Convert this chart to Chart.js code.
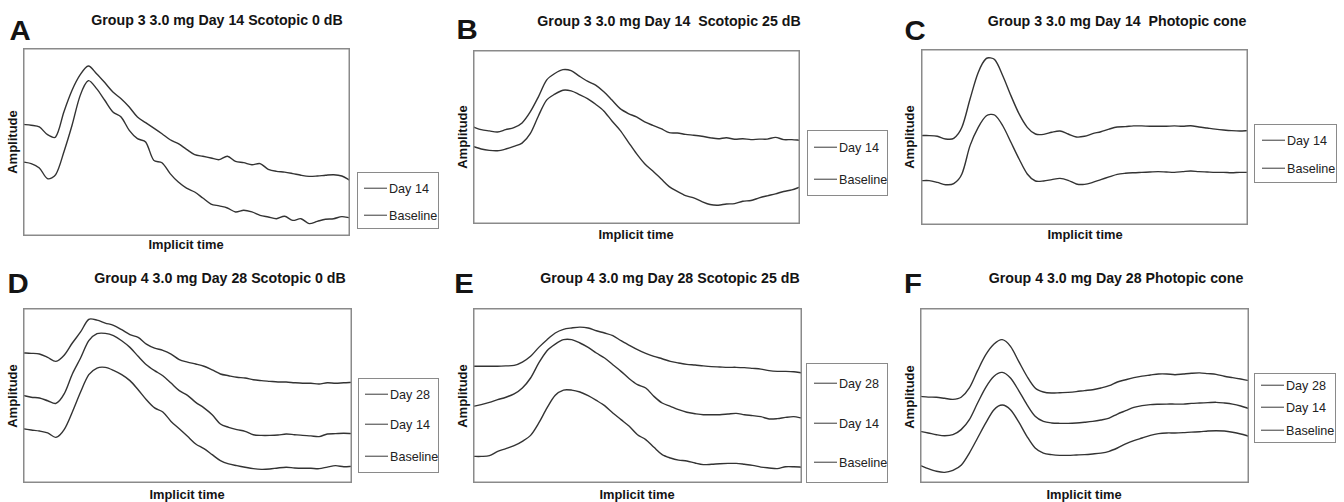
<!DOCTYPE html>
<html>
<head>
<meta charset="utf-8">
<script src="https://cdn.jsdelivr.net/npm/chart.js@4/dist/chart.umd.min.js"></script>
<style>
  html, body { margin:0; padding:0; background:#fff; }
  body { width:1344px; height:502px; position:relative; overflow:hidden; font-family:"Liberation Sans", Arial, sans-serif; color:#141414; }
  .abs { position:absolute; white-space:nowrap; line-height:1; }
  .ctr { transform:translate(-50%,-50%); }
  .letter { font-size:28px; font-weight:700; transform:translate(-50%,-50%) scaleX(1.05); }
  .title { font-size:14.2px; font-weight:700; }
  .ylab { font-size:13px; font-weight:700; transform:translate(-50%,-50%) rotate(-90deg); }
  .xlab { font-size:12.9px; font-weight:700; }
  .legend { position:absolute; border:1.5px solid #8a8a8a; box-sizing:border-box; overflow:hidden; background:#fff; }
  .litem { position:absolute; font-size:12.6px; line-height:1; white-space:nowrap; transform:translateY(-50%); color:#222; }
  .litem span.ln { display:inline-block; width:23px; height:0; border-top:1.3px solid #3a3a3a; vertical-align:middle; margin-right:2px; position:relative; top:-1px; }
  canvas { position:absolute; }
</style>
</head>
<body>
<script>
// ---------- Data (amplitude in arbitrary units, 0 = bottom of plot box, 100 = top) ----------
const sampleIndex = Array.from({length: 41}, (_, i) => i); // implicit-time sample index

const panelLetters = ["A", "B", "C", "D", "E", "F"];
const panelTitles = [
  "Group 3 3.0 mg Day 14 Scotopic 0 dB",
  "Group 3 3.0 mg Day 14\u00a0 Scotopic 25 dB",
  "Group 3 3.0 mg Day 14\u00a0 Photopic cone",
  "Group 4 3.0 mg Day 28 Scotopic 0 dB",
  "Group 4 3.0 mg Day 28 Scotopic 25 dB",
  "Group 4 3.0 mg Day 28 Photopic cone"
];
const yAxisLabel = "Amplitude";
const xAxisLabel = "Implicit time";
const seriesNamesTwo = ["Day 14", "Baseline"];
const seriesNamesThree = ["Day 28", "Day 14", "Baseline"];

// Panel A
const aDay14 = [59.4,58.9,58.0,53.9,52.7,66.0,77.5,85.8,90.4,86.3,81.6,76.6,73.0,68.6,63.3,60.3,57.4,54.4,51.2,49.1,46.1,43.3,42.4,41.5,40.6,42.4,39.7,39.0,37.9,38.5,35.5,34.4,34.0,33.2,32.3,31.7,31.9,32.3,32.6,31.9,29.6];
const aBaseline = [39.4,38.5,36.2,30.5,32.6,44.7,58.9,74.8,82.6,78.4,72.2,66.0,63.3,56.2,51.8,50.0,40.2,39.0,33.2,28.7,25.5,23.4,20.2,17.0,16.0,14.9,12.8,13.7,12.8,11.0,10.1,9.2,10.5,8.3,9.2,6.6,7.8,8.9,9.2,10.3,9.6];
// Panel B
const bDay14 = [55.8,54.2,53.5,52.9,54.2,55.4,58.1,64.4,73.1,82.7,86.5,88.7,88.1,85.0,82.1,79.8,76.0,71.2,66.3,63.5,61.5,58.7,56.7,54.8,52.5,52.3,51.5,51.0,50.4,49.6,49.0,49.6,48.7,49.0,48.5,48.8,48.8,49.8,48.5,48.5,48.1];
const bBaseline = [44.6,43.1,42.3,42.1,43.1,44.6,46.5,51.9,62.1,71.2,74.6,76.9,76.5,74.4,72.1,68.8,65.0,59.2,53.8,47.1,40.4,34.6,30.4,26.0,21.5,18.7,16.3,15.0,12.9,11.2,10.8,11.5,11.7,13.1,13.5,15.0,16.2,17.3,18.7,19.6,21.2];
// Panel C
const cDay14 = [50.8,50.8,50.4,48.9,49.2,55.5,71.6,86.7,94.7,94.0,84.8,73.5,63.1,55.5,51.7,51.5,52.7,53.4,51.7,50.0,50.4,51.9,53.0,54.5,55.7,55.9,56.3,56.3,56.1,56.1,56.1,56.3,56.1,56.4,55.7,55.1,54.5,54.0,53.6,53.4,53.6];
const cBaseline = [25.2,25.2,24.2,22.9,23.5,29.0,45.1,55.5,62.1,62.5,56.4,47.0,37.5,29.0,25.0,25.0,25.8,26.5,25.4,23.3,23.1,24.2,25.8,27.3,28.8,29.4,29.7,29.9,30.1,30.3,30.1,29.9,30.3,30.7,30.3,30.1,29.9,29.9,29.7,29.9,29.9];
// Panel D
const dDay28 = [74.3,74.1,73.7,71.8,69.5,73.0,80.0,86.3,93.5,93.1,91.4,90.1,87.6,84.8,83.2,79.4,77.1,75.8,73.7,70.5,69.1,68.0,66.7,64.6,62.3,61.3,60.4,60.0,59.0,58.5,58.1,57.7,57.7,57.3,57.0,57.0,56.6,57.3,57.0,57.3,57.5];
const dDay14 = [50.1,49.0,48.6,47.0,45.5,50.9,62.3,71.4,81.3,85.3,85.5,84.2,81.3,77.5,72.4,67.6,64.2,61.3,57.1,52.8,50.1,46.1,42.9,39.0,33.7,31.8,30.5,29.5,27.6,27.2,27.2,27.4,28.0,27.6,27.2,26.9,26.5,28.0,28.2,28.4,28.2];
const dBaseline = [31.0,30.3,29.7,28.6,26.1,30.5,40.6,52.0,61.9,65.7,66.1,64.4,61.9,58.5,53.3,47.6,42.9,40.6,35.2,31.0,26.7,22.3,19.6,16.2,12.8,10.9,9.9,9.0,8.2,7.8,8.0,8.6,9.0,8.6,8.4,8.4,8.2,9.1,9.9,9.3,9.5];
// Panel E
const eDay28 = [66.7,66.7,66.7,66.7,66.9,67.2,69.1,72.4,77.5,81.9,85.7,87.8,88.6,89.1,88.6,87.0,85.7,84.2,81.3,78.7,76.2,74.1,72.4,71.0,69.5,68.6,67.8,67.4,66.9,66.5,66.3,66.1,66.1,65.9,65.5,65.1,64.2,63.8,63.8,63.6,62.9];
const eDay14 = [43.8,44.8,46.1,47.6,49.0,50.9,54.3,60.0,68.6,75.6,79.4,81.9,81.9,80.0,77.5,74.3,71.4,67.6,63.8,59.6,56.2,54.3,49.5,45.7,43.8,41.9,40.4,39.6,39.0,39.0,39.0,39.4,39.8,39.0,38.5,37.9,36.6,36.8,37.5,37.9,37.1];
const eBaseline = [15.2,15.2,15.6,18.1,19.6,21.3,23.8,27.2,34.3,42.9,50.1,53.1,53.1,52.0,49.9,47.2,44.2,40.0,36.2,32.4,27.6,24.8,20.4,16.2,14.3,13.1,12.6,11.4,10.5,10.7,11.0,11.2,11.2,10.7,10.1,9.1,8.6,8.2,9.3,9.3,9.0];
// Panel F
const fDay28 = [49.5,49.1,49.0,48.4,47.8,49.0,54.3,64.2,73.3,79.4,81.9,78.1,69.5,61.0,54.3,52.0,51.4,51.6,51.8,52.2,52.8,53.3,54.3,55.6,57.7,59.0,60.2,61.1,61.7,62.3,62.3,61.9,62.3,62.7,62.9,62.5,62.1,61.0,60.2,59.4,58.5];
const fDay14 = [29.5,28.6,27.6,27.0,27.6,30.5,36.2,45.7,54.7,61.0,63.2,60.0,52.8,44.8,38.1,35.2,34.3,34.1,34.1,34.3,34.7,35.2,36.0,37.1,39.4,41.3,43.2,44.2,44.8,45.0,45.1,45.1,45.1,45.5,45.7,45.9,46.1,45.7,45.1,44.0,42.5];
const fBaseline = [10.1,8.2,6.7,6.1,7.2,10.1,17.1,25.7,34.3,41.9,44.6,41.9,34.9,26.7,20.0,17.1,16.2,15.8,15.8,16.0,16.2,16.6,17.1,18.1,20.0,22.3,24.2,25.7,27.2,28.2,28.6,28.6,28.8,29.1,29.3,29.7,29.9,29.7,29.0,28.0,26.7];

const panelSeries = [
  [aDay14, aBaseline],
  [bDay14, bBaseline],
  [cDay14, cBaseline],
  [dDay28, dDay14, dBaseline],
  [eDay28, eDay14, eBaseline],
  [fDay28, fDay14, fBaseline]
];
const panelSeriesNames = [seriesNamesTwo, seriesNamesTwo, seriesNamesTwo, seriesNamesThree, seriesNamesThree, seriesNamesThree];

// ---------- Layout (positions / sizes only) ----------
const layout = [
  { box:[23,48,327,188],  letter:[20,31],  title:[217,20],  ylab:[12,142],  xlab:[186,245],  legend:[357,172,82,57],  items:[188,215],     lineX:6 },
  { box:[473,50,327,174], letter:[467,30], title:[669,21],  ylab:[462,137], xlab:[636,235],  legend:[807,130,81,66],  items:[147,179],     lineX:6 },
  { box:[921,49,327,176], letter:[915,31], title:[1117,21], ylab:[909,137], xlab:[1085,235], legend:[1254,124,83,59], items:[140,168],     lineX:7 },
  { box:[23,308,329,175], letter:[18,284], title:[220,278], ylab:[12,396],  xlab:[187,495],  legend:[358,378,81,95],  items:[394,424,456], lineX:6 },
  { box:[473,308,329,175],letter:[464,284],title:[670,278], ylab:[462,396], xlab:[637,495],  legend:[806,363,82,120], items:[383,423,462], lineX:7 },
  { box:[920,308,329,175],letter:[913,284],title:[1116,278],ylab:[909,397], xlab:[1084,495], legend:[1254,373,82,70], items:[385,407,430], lineX:6 }
];

const LINE_COLOR = "#333333";
const BOX_COLOR = "#8a8a8a";

const frameBox = {
  id: "frameBox",
  afterDraw(chart) {
    const ctx = chart.ctx;
    const a = chart.chartArea;
    ctx.save();
    ctx.strokeStyle = BOX_COLOR;
    ctx.lineWidth = 1.5;
    ctx.strokeRect(a.left + 0.75, a.top + 0.75, a.right - a.left - 1.5, a.bottom - a.top - 1.5);
    ctx.restore();
  }
};

function addText(cls, text, x, y) {
  const d = document.createElement("div");
  d.className = "abs " + cls;
  d.textContent = text;
  d.style.left = x + "px";
  d.style.top = y + "px";
  document.body.appendChild(d);
  return d;
}

layout.forEach((L, p) => {
  const [bx, by, bw, bh] = L.box;
  const cv = document.createElement("canvas");
  cv.width = bw; cv.height = bh;
  cv.style.left = bx + "px"; cv.style.top = by + "px";
  cv.style.width = bw + "px"; cv.style.height = bh + "px";
  document.body.appendChild(cv);

  new Chart(cv.getContext("2d"), {
    type: "line",
    data: {
      labels: sampleIndex,
      datasets: panelSeries[p].map((vals, k) => ({
        label: panelSeriesNames[p][k],
        data: vals,
        borderColor: LINE_COLOR,
        borderWidth: 1.4,
        pointRadius: 0,
        tension: 0.3,
        fill: false
      }))
    },
    options: {
      responsive: false,
      animation: false,
      devicePixelRatio: 1,
      layout: { padding: 0 },
      scales: {
        x: { type: "category", display: false, offset: false },
        y: { display: false, min: 0, max: 100 }
      },
      plugins: { legend: { display: false }, tooltip: { enabled: false }, title: { display: false } }
    },
    plugins: [frameBox]
  });

  addText("letter", panelLetters[p], L.letter[0], L.letter[1]);
  addText("title ctr", panelTitles[p], L.title[0], L.title[1]);
  addText("ylab", yAxisLabel, L.ylab[0], L.ylab[1]);
  addText("xlab ctr", xAxisLabel, L.xlab[0], L.xlab[1]);

  const [lx, ly, lw, lh] = L.legend;
  const lg = document.createElement("div");
  lg.className = "legend";
  lg.style.left = lx + "px"; lg.style.top = ly + "px";
  lg.style.width = lw + "px"; lg.style.height = lh + "px";
  panelSeriesNames[p].forEach((name, k) => {
    const it = document.createElement("div");
    it.className = "litem";
    it.style.left = L.lineX + "px";
    it.style.top = (L.items[k] - ly) + "px";
    const ln = document.createElement("span");
    ln.className = "ln";
    it.appendChild(ln);
    it.appendChild(document.createTextNode(name));
    lg.appendChild(it);
  });
  document.body.appendChild(lg);
});
</script>
</body>
</html>
